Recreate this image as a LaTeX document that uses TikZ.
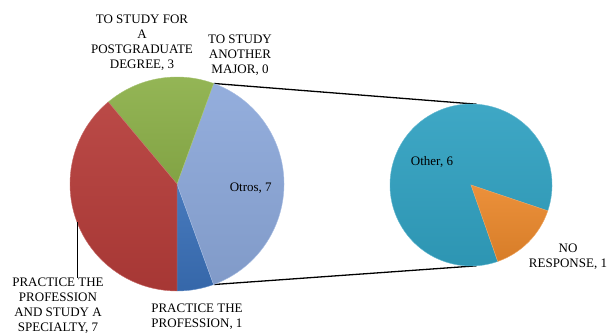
\documentclass[tikz,border=0pt]{standalone}
\usepackage{fontspec}
\setmainfont{Liberation Serif}
\definecolor{pgreen}{HTML}{8DB14A}
\definecolor{pred}{HTML}{B53C39}
\definecolor{plight}{HTML}{8CA8DA}
\definecolor{pdark}{HTML}{3A70B8}
\definecolor{pteal}{HTML}{31A2C2}
\definecolor{porange}{HTML}{EA882C}

\begin{document}
\begin{tikzpicture}[x=1pt,y=1pt,thick]

			\tikzstyle{every node}=[font=\fontsize{13}{14.8}\selectfont,align=center,inner sep=0pt]
			\tikzstyle{link}=[line width=1.3pt,black]

			\def\slice#1#2#3#4#5{\shade[top color=#5!93!white,middle color=#5,bottom color=#5!92!black,draw=#5!75!white,line width=0.4pt] (#1) -- ++(#2:#4) arc[start angle=#2,end angle=#3,radius=#4] -- cycle;}

			\useasboundingbox (0,0) rectangle (613,335);

			\coordinate (lc) at (177,151);
			\coordinate (rc) at (471,150);
			\path (lc) ++(70:107) coordinate (lt);
			\path (lc) ++(290:107) coordinate (lb);
			\path (lc) ++(201:107) coordinate (lead);
			\path (rc) ++(86:81) coordinate (rt);
			\path (rc) ++(-86:81) coordinate (rb);

			\draw[link] (lt) -- (rt);
			\draw[link] (lb) -- (rb);

			\slice{lc}{270}{290}{107}{pdark}
			\slice{lc}{290}{430}{107}{plight}
			\slice{lc}{70}{130}{107}{pgreen}
			\slice{lc}{130}{270}{107}{pred}
			\slice{rc}{-18.6}{289.3}{81}{pteal}
			\slice{rc}{-70.7}{-18.6}{81}{porange}

			\node (pg) at (142,292.5) {TO STUDY FOR\\A\\POSTGRADUATE\\DEGREE, 3};
			\node (major) at (240,279.7) {TO STUDY\\ANOTHER\\MAJOR, 0};
			\node (otros) at (250.7,147) {Otros, 7};
			\node (spec) at (58,29.5) {PRACTICE THE\\PROFESSION\\AND STUDY A\\SPECIALTY, 7};
			\node (prof) at (197,18) {PRACTICE THE\\PROFESSION, 1};
			\node (other) at (432,173) {Other, 6};
			\node (nr) at (568,78) {NO\\RESPONSE, 1};

			\draw[line width=1pt] (lead) -- (lead |- spec.north);
			\end{tikzpicture}
\end{document}
